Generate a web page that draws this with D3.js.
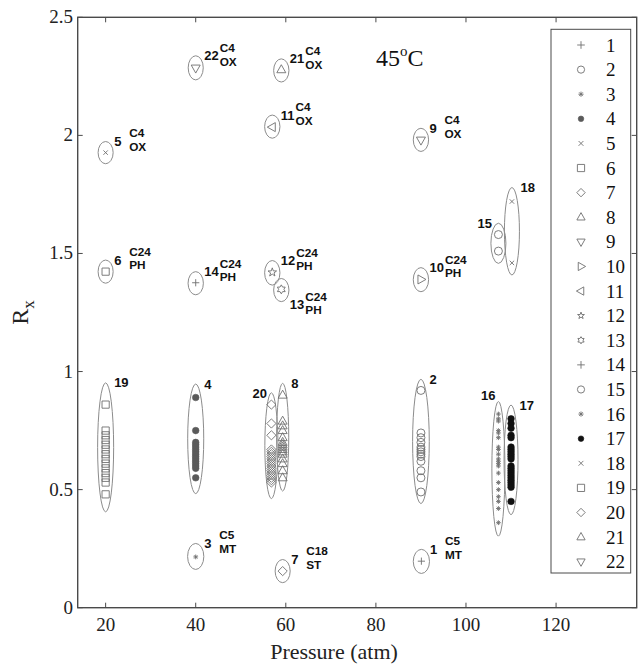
<!DOCTYPE html>
<html><head><meta charset="utf-8">
<script src="https://cdn.jsdelivr.net/npm/d3@7"></script>
<style>body{margin:0;background:#fff}</style>
</head><body><svg id="chart" width="640" height="665"></svg>
<script>
// ---------------- data ----------------
const groupIds = d3.range(1, 23);
const groupX = [90.1, 90, 40, 40, 20, 20, 59.3, 59.3, 90, 90, 57, 57, 59, 40, 107.2, 107.2, 110, 110.2, 20, 56.8, 59, 40];
const groupValues = [
  [0.197],
  [0.92, 0.74, 0.72, 0.70, 0.68, 0.67, 0.66, 0.65, 0.64, 0.62, 0.58, 0.55, 0.49],
  [0.215],
  [0.89, 0.75, 0.70, 0.69, 0.68, 0.67, 0.66, 0.65, 0.64, 0.63, 0.62, 0.61, 0.60, 0.59, 0.55],
  [1.927],
  [1.423],
  [0.155],
  [0.90, 0.79, 0.77, 0.75, 0.72, 0.70, 0.69, 0.68, 0.67, 0.66, 0.65, 0.63, 0.61, 0.58, 0.55],
  [1.98],
  [1.39],
  [2.035],
  [1.42],
  [1.348],
  [1.376],
  [1.58, 1.51],
  [0.82, 0.80, 0.79, 0.75, 0.74, 0.72, 0.68, 0.67, 0.65, 0.63, 0.62, 0.61, 0.60, 0.57, 0.53, 0.50, 0.47, 0.45, 0.42, 0.36],
  [0.80, 0.78, 0.76, 0.73, 0.72, 0.68, 0.67, 0.66, 0.65, 0.64, 0.63, 0.60, 0.59, 0.58, 0.57, 0.56, 0.55, 0.54, 0.53, 0.52, 0.51, 0.45],
  [1.72, 1.46],
  [0.86, 0.75, 0.73, 0.71, 0.69, 0.67, 0.65, 0.63, 0.61, 0.59, 0.57, 0.55, 0.53, 0.48],
  [0.86, 0.78, 0.73, 0.67, 0.66, 0.65, 0.64, 0.63, 0.62, 0.61, 0.60, 0.59, 0.58, 0.57, 0.56, 0.55, 0.54, 0.53],
  [2.278],
  [2.285]
];
const markerTypes = ["plus", "circle", "asterisk", "dot", "x", "square", "diamond", "triangleUp",
  "triangleDown", "triangleRight", "triangleLeft", "pentagram", "hexagram", "plus", "circle",
  "asterisk", "dot", "x", "square", "diamond", "triangleUp", "triangleDown"];
// ellipses (data units: atm, Rx)
const ellipseCx = [90.1, 90, 40, 40, 20, 20, 59.3, 59.3, 90, 90, 57, 57, 59, 40, 107.2, 107.2, 110, 110.2, 20, 56.8, 59, 40];
const ellipseCy = [0.196, 0.704, 0.217, 0.715, 1.927, 1.423, 0.155, 0.722, 1.981, 1.389, 2.037, 1.418, 1.345, 1.374, 1.543, 0.588, 0.626, 1.594, 0.679, 0.686, 2.275, 2.286];
const ellipseRx = [1.8, 1.85, 1.8, 1.78, 1.67, 1.67, 1.67, 1.35, 1.7, 1.7, 1.7, 1.7, 1.7, 1.7, 1.67, 1.45, 1.55, 1.67, 1.78, 1.45, 1.7, 1.67];
const ellipseRy = [0.051, 0.263, 0.055, 0.232, 0.047, 0.049, 0.049, 0.228, 0.049, 0.051, 0.049, 0.052, 0.049, 0.049, 0.085, 0.285, 0.232, 0.185, 0.273, 0.224, 0.049, 0.051];
const noteTop = ["C5", "", "C5", "", "C4", "C24", "C18", "", "C4", "C24", "C4", "C24", "C24", "C24", "", "", "", "", "", "", "C4", "C4"];
const noteBottom = ["MT", "", "MT", "", "OX", "PH", "ST", "", "OX", "PH", "OX", "PH", "PH", "PH", "", "", "", "", "", "", "OX", "OX"];
const xTicks = [20, 40, 60, 80, 100, 120];
const yTicks = [0, 0.5, 1, 1.5, 2, 2.5];
const yTickLabels = ["0", "0.5", "1", "1.5", "2", "2.5"];

// ---------------- layout (not data) ----------------
const labelLayout = {
  13: {anchor: "start", dx: 8.5, ref: "bottom", dy: 3},
  15: {anchor: "end", dx: -6.5, ref: "top", dy: 0},
  16: {anchor: "end", dx: -3, ref: "top", dy: -6},
  20: {anchor: "end", dx: -4.5, ref: "top", dy: 1}
};
const spacedNotes = new Set([1, 3, 5, 6, 7, 9]);

const svg = d3.select("#chart");
const L = 77.7, R = 636.7, T = 17.3, B = 607.7;
const x = d3.scaleLinear().domain([13.8, 137.9]).range([L, R]);
const y = d3.scaleLinear().domain([0, 2.5]).range([B, T]);
const axisColor = "#4a4a4a";
const markColor = "#6f6f6f";

function starPath(n, ro, ri) {
  let p = [];
  for (let i = 0; i < 2 * n; i++) {
    const r = i % 2 ? ri : ro;
    const a = -Math.PI / 2 + i * Math.PI / n;
    p.push([r * Math.cos(a), r * Math.sin(a)]);
  }
  return "M" + p.map(q => q[0].toFixed(2) + "," + q[1].toFixed(2)).join("L") + "Z";
}
function markerPath(t, s) {
  const d = s * 0.707;
  switch (t) {
    case "plus": return `M${-s},0H${s}M0,${-s}V${s}`;
    case "x": return `M${-s},${-s}L${s},${s}M${-s},${s}L${s},${-s}`;
    case "asterisk": return `M${-s},0H${s}M0,${-s}V${s}M${-d},${-d}L${d},${d}M${-d},${d}L${d},${-d}`;
    case "circle": case "dot": return `M${s},0A${s},${s} 0 1,1 ${-s},0A${s},${s} 0 1,1 ${s},0Z`;
    case "square": return `M${-s},${-s}H${s}V${s}H${-s}Z`;
    case "diamond": return `M0,${-s}L${s},0L0,${s}L${-s},0Z`;
    case "triangleUp": return `M0,${-s}L${s*0.9},${s*0.6}L${-s*0.9},${s*0.6}Z`;
    case "triangleDown": return `M0,${s}L${s*0.9},${-s*0.6}L${-s*0.9},${-s*0.6}Z`;
    case "triangleRight": return `M${s},0L${-s*0.6},${s*0.9}L${-s*0.6},${-s*0.9}Z`;
    case "triangleLeft": return `M${-s},0L${s*0.6},${s*0.9}L${s*0.6},${-s*0.9}Z`;
    case "pentagram": return starPath(5, s, s * 0.4);
    case "hexagram": return starPath(6, s, s * 0.58);
  }
}
const markerSize = {plus: 3.6, circle: 4, asterisk: 2.4, dot: 3.3, x: 2.2, square: 3.6, diamond: 4.6,
  triangleUp: 5, triangleDown: 5, triangleRight: 5, triangleLeft: 5, pentagram: 4.5, hexagram: 4.5};
const legendSize = {plus: 3.8, circle: 3.6, asterisk: 2.6, dot: 2.8, x: 2.4, square: 3.6, diamond: 4.2,
  triangleUp: 4.6, triangleDown: 4.6, triangleRight: 4.6, triangleLeft: 4.6, pentagram: 3.6, hexagram: 3.6};
function styleMarker(sel, gi) {
  const t = markerTypes[gi];
  if (t === "dot") {
    const c = gi === 16 ? "#111" : "#5a5a5a";
    sel.attr("fill", c).attr("stroke", c).attr("stroke-width", 0.6);
  } else {
    sel.attr("fill", "none").attr("stroke", markColor).attr("stroke-width", 0.9);
  }
}

// ---------------- frame & ticks ----------------
const frame = svg.append("g");
frame.append("rect").attr("x", L).attr("y", T).attr("width", R - L).attr("height", B - T)
  .attr("fill", "none").attr("stroke", axisColor).attr("stroke-width", 1.4);
const tk = 5;
xTicks.forEach(v => {
  frame.append("line").attr("x1", x(v)).attr("x2", x(v)).attr("y1", B).attr("y2", B - tk).attr("stroke", axisColor);
  frame.append("line").attr("x1", x(v)).attr("x2", x(v)).attr("y1", T).attr("y2", T + tk).attr("stroke", axisColor);
});
yTicks.forEach(v => {
  frame.append("line").attr("x1", L).attr("x2", L + tk).attr("y1", y(v)).attr("y2", y(v)).attr("stroke", axisColor);
  frame.append("line").attr("x1", R).attr("x2", R - tk).attr("y1", y(v)).attr("y2", y(v)).attr("stroke", axisColor);
});
const serif = "'Liberation Serif','Times New Roman',serif";
const sans = "'Liberation Sans',Arial,sans-serif";
svg.append("g").selectAll("text").data(xTicks).join("text")
  .attr("x", d => x(d)).attr("y", 631).attr("text-anchor", "middle")
  .attr("font-family", serif).attr("font-size", 19).attr("fill", "#222").text(d => d);
svg.append("g").selectAll("text").data(yTicks).join("text")
  .attr("x", 73).attr("y", d => y(d) + 6).attr("text-anchor", "end")
  .attr("font-family", serif).attr("font-size", 19).attr("fill", "#222").text((d, i) => yTickLabels[i]);
svg.append("text").attr("x", 334).attr("y", 659).attr("text-anchor", "middle")
  .attr("font-family", serif).attr("font-size", 22).attr("fill", "#222").text("Pressure (atm)");
const yl = svg.append("text").attr("transform", `translate(28,${(T + B) / 2}) rotate(-90)`)
  .attr("text-anchor", "middle").attr("font-family", serif).attr("font-size", 24).attr("fill", "#222");
yl.append("tspan").text("R");
yl.append("tspan").attr("dy", 6).attr("font-size", 17).text("x");

const tt = svg.append("text").attr("x", 376).attr("y", 66).attr("font-family", serif).attr("font-size", 24).attr("fill", "#111");
tt.append("tspan").text("45");
tt.append("tspan").attr("dy", -10).attr("font-size", 15).text("o");
tt.append("tspan").attr("dy", 10).text("C");

// ---------------- ellipses ----------------
svg.append("g").selectAll("ellipse").data(groupIds).join("ellipse")
  .attr("cx", (d, i) => x(ellipseCx[i]))
  .attr("cy", (d, i) => y(ellipseCy[i]))
  .attr("rx", (d, i) => x(ellipseCx[i] + ellipseRx[i]) - x(ellipseCx[i]))
  .attr("ry", (d, i) => y(ellipseCy[i] - ellipseRy[i]) - y(ellipseCy[i]))
  .attr("fill", "none").attr("stroke", "#8c8c8c").attr("stroke-width", 1);

// ---------------- markers ----------------
const mg = svg.append("g");
groupIds.forEach((id, gi) => {
  const t = markerTypes[gi];
  const sel = mg.append("g").selectAll("path").data(groupValues[gi]).join("path")
    .attr("d", markerPath(t, markerSize[t]))
    .attr("transform", v => `translate(${x(groupX[gi])},${y(v)})`);
  styleMarker(sel, gi);
});

// ---------------- labels ----------------
const lg = svg.append("g").attr("font-family", sans).attr("font-weight", "bold").attr("fill", "#111");
groupIds.forEach((id, gi) => {
  const cx = x(ellipseCx[gi]);
  const top = y(ellipseCy[gi] + ellipseRy[gi]);
  const bot = y(ellipseCy[gi] - ellipseRy[gi]);
  const lay = labelLayout[id] || {anchor: "start", dx: 8.5, ref: "top", dy: 0};
  const cyNum = (lay.ref === "top" ? top : bot) + lay.dy;
  const nx = cx + lay.dx;
  const num = lg.append("text").attr("x", nx).attr("y", cyNum + 4.6).attr("font-size", 13)
    .attr("text-anchor", lay.anchor).text(id);
  if (noteTop[gi]) {
    let tx;
    if (spacedNotes.has(id)) tx = nx + 15;
    else tx = nx + num.node().getComputedTextLength() + 1;
    const up = spacedNotes.has(id) ? -8.5 : -8;
    const dn = spacedNotes.has(id) ? 5 : 5.5;
    lg.append("text").attr("x", tx).attr("y", cyNum + up + 4.3).attr("font-size", 11.8).text(noteTop[gi]);
    lg.append("text").attr("x", tx).attr("y", cyNum + dn + 4.3).attr("font-size", 11.8).text(noteBottom[gi]);
  }
});

// ---------------- legend ----------------
const leg = svg.append("g");
leg.append("rect").attr("x", 551).attr("y", 29.3).attr("width", 79.7).attr("height", 543.7)
  .attr("fill", "#fff").attr("stroke", axisColor).attr("stroke-width", 1);
const ly = d3.scaleLinear().domain([1, 22]).range([45, 561.7]);
groupIds.forEach((id, gi) => {
  const t = markerTypes[gi];
  const p = leg.append("path").attr("d", markerPath(t, legendSize[t]))
    .attr("transform", `translate(581,${ly(id)})`);
  styleMarker(p, gi);
  leg.append("text").attr("x", 606).attr("y", ly(id) + 6.5).attr("font-family", serif)
    .attr("font-size", 19).attr("fill", "#111").text(id);
});
</script></body></html>
